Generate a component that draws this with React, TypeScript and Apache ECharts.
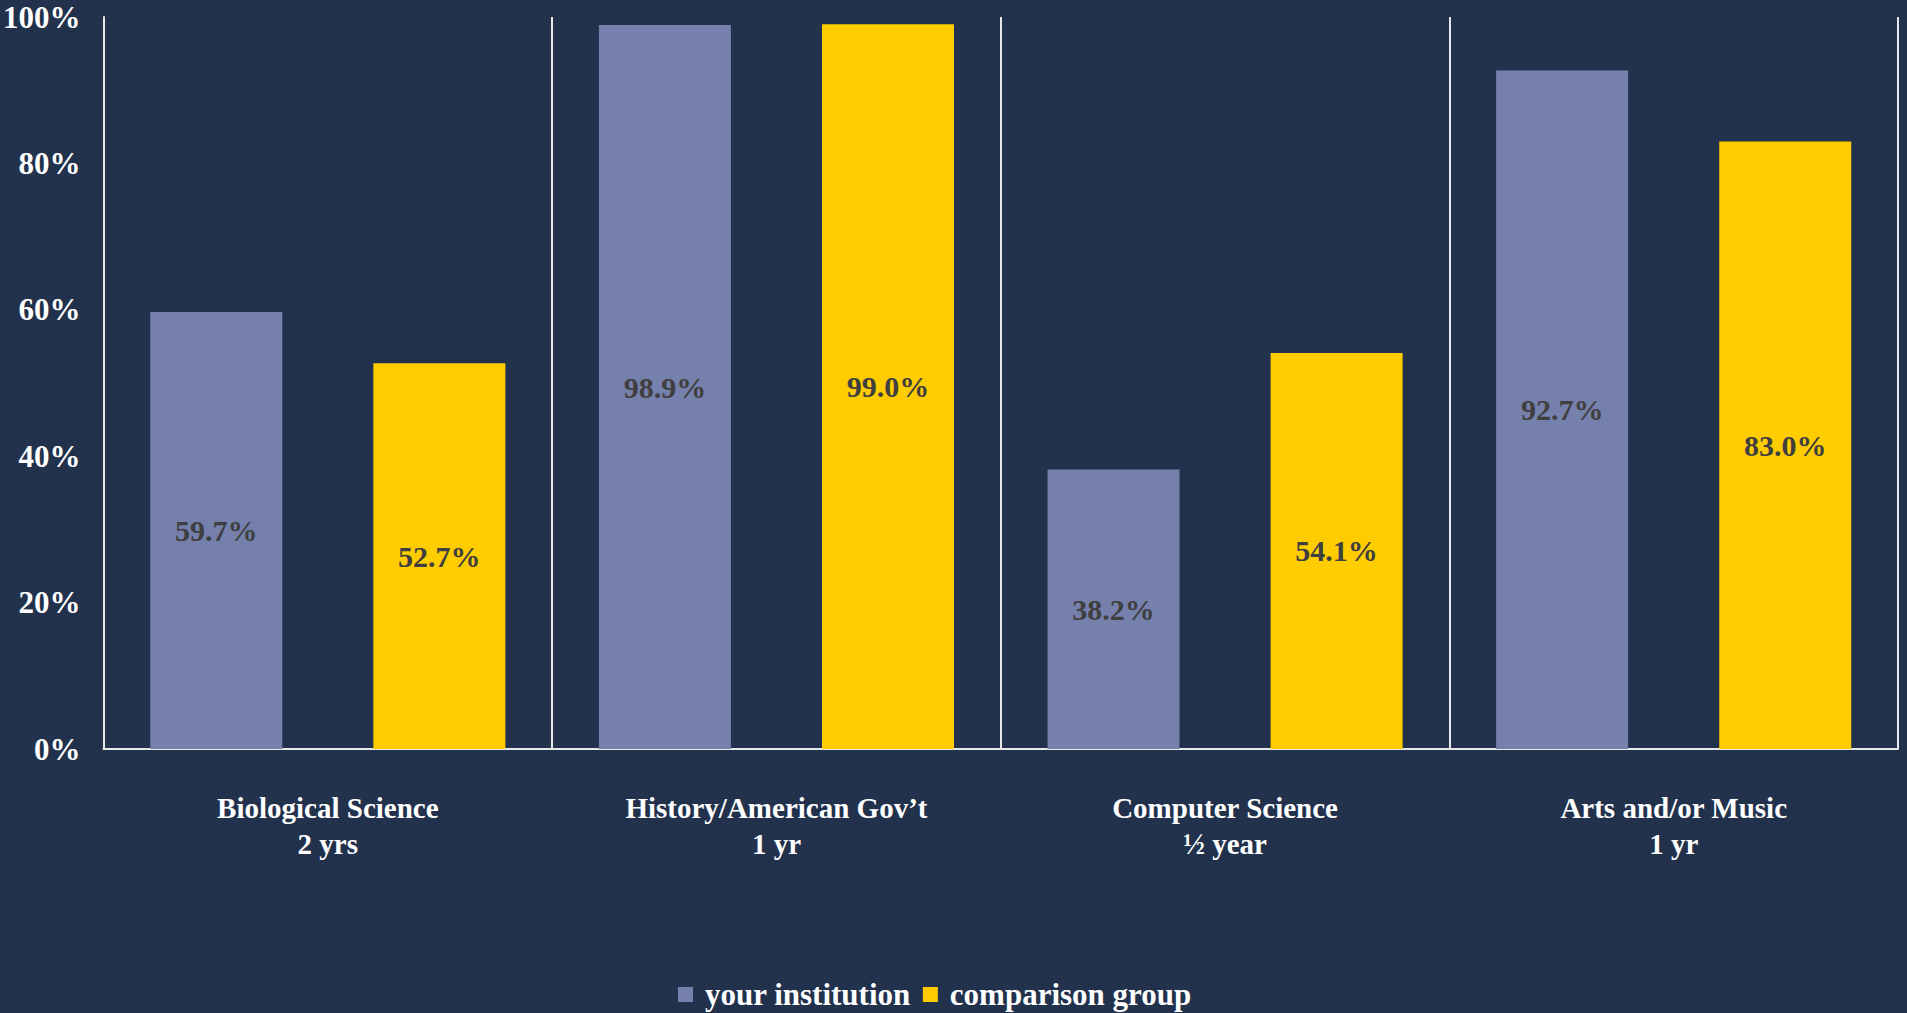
import React, { useEffect, useRef } from "react";
import * as echarts from "echarts";

const categories = [
  "Biological Science\n2 yrs",
  "History/American Gov\u2019t\n1 yr",
  "Computer Science\n\u00bd year",
  "Arts and/or Music\n1 yr",
];
const yourInstitution = [59.7, 98.9, 38.2, 92.7];
const comparisonGroup = [52.7, 99.0, 54.1, 83.0];
const seriesNames = ["your institution", "comparison group"];

const BG = "#22324D";
const PURPLE = "#7680AD";
const YELLOW = "#FFCC00";
const FONT = "'Liberation Serif', 'DejaVu Serif', serif";

export default function App() {
  const ref = useRef<HTMLDivElement>(null);
  useEffect(() => {
    document.body.style.margin = "0";
    document.body.style.background = BG;
    const chart = echarts.init(ref.current!, null, { renderer: "svg" });
    const labelStyle = {
      show: true,
      position: "inside",
      color: "#3F3F3F",
      fontFamily: FONT,
      fontWeight: "bold",
      fontSize: 30,
      formatter: (p: any) => p.value.toFixed(1) + "%",
    };
    chart.setOption({
      animation: false,
      backgroundColor: BG,
      grid: { left: 103, right: 9, top: 17, bottom: 264, containLabel: false },
      legend: {
        data: seriesNames,
        top: 974,
        left: 673,
        icon: "rect",
        itemWidth: 15,
        itemHeight: 15,
        itemGap: 12,
        textStyle: {
          color: "#FFFFFF",
          fontFamily: FONT,
          fontWeight: "bold",
          fontSize: 31,
          padding: [0, 0, 0, 7],
        },
      },
      xAxis: {
        type: "category",
        data: categories,
        axisLine: { show: true, lineStyle: { color: "#E8E8E8", width: 2 } },
        axisTick: { show: false },
        splitLine: { show: true, lineStyle: { color: "#E8E8E8", width: 2 } },
        axisLabel: {
          color: "#FFFFFF",
          fontFamily: FONT,
          fontWeight: "bold",
          fontSize: 29,
          lineHeight: 36,
          margin: 41,
          interval: 0,
        },
      },
      yAxis: {
        type: "value",
        min: 0,
        max: 100,
        interval: 20,
        axisLine: { show: true, lineStyle: { color: "#E8E8E8", width: 2 } },
        axisTick: { show: false },
        splitLine: { show: false },
        axisLabel: {
          color: "#FFFFFF",
          fontFamily: FONT,
          fontWeight: "bold",
          fontSize: 31,
          margin: 23,
          padding: [14, 0, 0, 0],
          formatter: (v: number) => v + "%",
        },
      },
      series: [
        {
          name: seriesNames[0],
          type: "bar",
          data: yourInstitution,
          barWidth: 132,
          barGap: "69%",
          itemStyle: { color: PURPLE },
          label: labelStyle,
        },
        {
          name: seriesNames[1],
          type: "bar",
          data: comparisonGroup,
          barWidth: 132,
          barGap: "69%",
          itemStyle: { color: YELLOW },
          label: labelStyle,
        },
      ],
    });
    return () => chart.dispose();
  }, []);
  return <div ref={ref} style={{ width: 1907, height: 1013 }} />;
}
